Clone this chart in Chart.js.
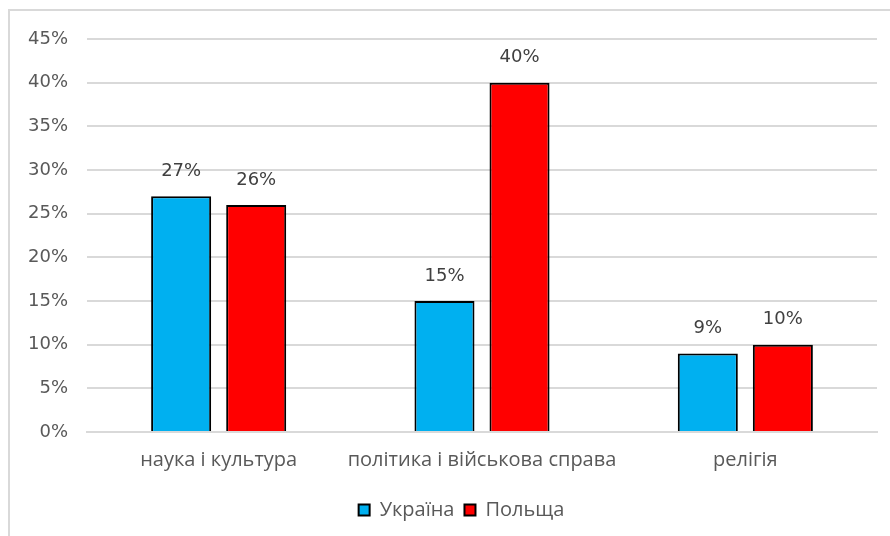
<!DOCTYPE html>
<html>
<head>
<meta charset="utf-8">
<script src="https://cdn.jsdelivr.net/npm/chart.js@4"></script>
<style>
  html, body { margin: 0; padding: 0; background: #fff; overflow: hidden; }
  #frame { position: absolute; left: 8px; top: 9px; width: 920px; height: 600px; border: 2px solid #d9d9d9; }
  #wrap { position: absolute; left: 0; top: 0; width: 890px; height: 536px; }
</style>
</head>
<body>
<div id="frame"></div>
<div id="wrap"><canvas id="myChart"></canvas></div>
<script>
var categories = ['наука і культура', 'політика і військова справа', 'релігія'];
var seriesNames = ['Україна', 'Польща'];
var ukraine = [27, 15, 9];
var poland = [26, 40, 10];
var yTicks = [0, 5, 10, 15, 20, 25, 30, 35, 40, 45];

var numFont = 'DejaVu Sans';
var textFont = 'Open Sans';

// writes the percentage over every bar
var barLabels = {
  id: 'barLabels',
  afterDatasetsDraw: function (chart) {
    var ctx = chart.ctx;
    ctx.save();
    ctx.font = '18px "' + numFont + '"';
    ctx.fillStyle = '#404040';
    ctx.textAlign = 'center';
    ctx.textBaseline = 'middle';
    chart.data.datasets.forEach(function (ds, i) {
      chart.getDatasetMeta(i).data.forEach(function (bar, j) {
        ctx.fillText(ds.data[j] + '%', bar.x, bar.y - 25);
      });
    });
    ctx.restore();
  }
};

// legend sits a bit right of the canvas centre
var legendShift = {
  id: 'legendShift',
  afterLayout: function (chart) {
    chart.legend.left += 23;
    chart.legend.right += 23;
  }
};

displayBars = function () {
  var myChart = new Chart(document.getElementById('myChart').getContext('2d'), {
    type: 'bar',
    data: {
      labels: categories,
      datasets: [{
        label: seriesNames[0],
        data: ukraine,
        backgroundColor: '#00b0f0',
        borderColor: '#000000',
        borderWidth: 2
      }, {
        label: seriesNames[1],
        data: poland,
        backgroundColor: '#ff0000',
        borderColor: '#000000',
        borderWidth: 2
      }]
    },
    options: {
      responsive: false,
      animation: false,
      devicePixelRatio: 1,
      layout: { padding: { top: 39, right: 13, left: 0, bottom: 6 } },
      datasets: { bar: { categoryPercentage: 0.57, barPercentage: 0.8 } },
      scales: {
        x: {
          grid: { display: false },
          border: { color: '#d9d9d9', width: 2 },
          ticks: {
            color: '#595959',
            font: { family: textFont, size: 20 },
            padding: 8,
            maxRotation: 0,
            minRotation: 0,
            autoSkip: false
          },
          afterFit: function (scale) { scale.height = 58; }
        },
        y: {
          min: 0,
          max: 45,
          afterBuildTicks: function (scale) {
            scale.ticks = yTicks.map(function (v) { return { value: v }; });
          },
          grid: { color: '#d9d9d9', lineWidth: 2, drawTicks: false },
          border: { display: false },
          ticks: {
            color: '#595959',
            font: { family: numFont, size: 18 },
            padding: 19,
            callback: function (v) { return v + '%'; }
          },
          afterFit: function (scale) { scale.width = 87; }
        }
      },
      plugins: {
        legend: {
          position: 'bottom',
          labels: {
            boxWidth: 11,
            boxHeight: 11,
            padding: 10,
            color: '#595959',
            font: { family: textFont, size: 20 }
          }
        },
        tooltip: { enabled: false }
      }
    },
    plugins: [barLabels, legendShift]
  });
};

var cv = document.getElementById('myChart');
cv.width = 890;
cv.height = 536;
displayBars();
</script>
</body>
</html>
